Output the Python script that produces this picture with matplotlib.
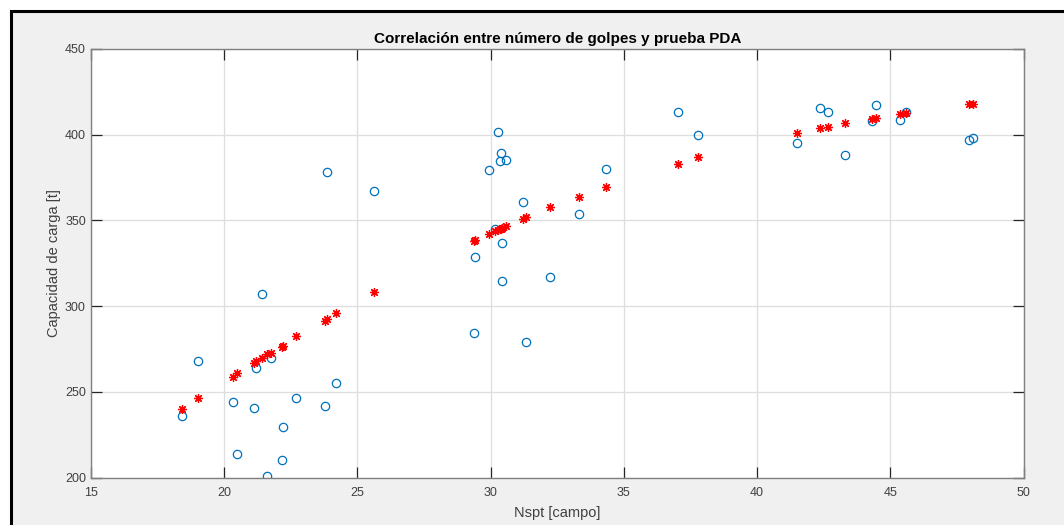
import matplotlib
matplotlib.use("Agg")
import matplotlib.pyplot as plt
from matplotlib.patches import Rectangle

# Nspt values (campo) and the two series
nspt = [
    18.42, 19.02, 20.34, 20.50, 21.13, 21.19, 21.43, 21.63, 21.75, 22.17,
    22.20, 22.72, 23.78, 23.86, 24.22, 25.63,
    29.37, 29.41, 29.95, 30.16, 30.29, 30.35, 30.39, 30.42, 30.42, 30.57,
    31.22, 31.33, 32.24, 33.33, 34.32,
    37.04, 37.79, 41.51, 42.37, 42.65, 43.30, 44.30, 44.45, 45.36, 45.58,
    47.93, 48.09,
]
capacidad_pda = [
    235.8, 268.1, 244.0, 214.0, 240.5, 264.0, 307.0, 201.0, 270.0, 210.1,
    229.4, 246.3, 241.7, 378.2, 255.3, 366.9,
    284.6, 328.8, 379.3, 345.1, 401.5, 384.6, 389.0, 336.9, 314.4, 385.2,
    360.9, 279.0, 316.9, 353.4, 379.9,
    413.2, 399.8, 395.3, 415.7, 413.4, 387.9, 408.1, 417.3, 408.3, 413.0,
    396.8, 398.2,
]
capacidad_ajuste = [
    239.9, 246.3, 258.6, 260.9, 267.1, 267.9, 269.8, 272.0, 272.6, 276.4,
    277.0, 282.3, 291.6, 292.4, 295.9, 308.2,
    338.0, 338.3, 342.2, 343.6, 344.5, 344.9, 345.1, 345.3, 345.3, 346.4,
    350.9, 351.7, 357.5, 363.6, 369.4,
    382.8, 386.9, 400.9, 403.8, 404.2, 406.5, 409.2, 409.4, 412.2, 412.4,
    417.9, 417.9,
]
x_ticks = [15, 20, 25, 30, 35, 40, 45, 50]
y_ticks = [200, 250, 300, 350, 400, 450]

plt.rcParams["font.family"] = ["Liberation Sans", "DejaVu Sans"]

W, H = 1064, 525
fig = plt.figure(figsize=(W / 100, H / 100), dpi=100, facecolor="white")

# grey window background with a black frame on the left and top
fig.patches.append(Rectangle((11 / W, -0.2), 1.5, (H - 11) / H + 0.2,
                             transform=fig.transFigure, facecolor="#f0f0f0",
                             edgecolor="black", linewidth=2.2, zorder=-10))

ax = fig.add_axes([90.7 / W, 47.3 / H, 933 / W, 429 / H])
ax.set_zorder(1)
ax.set_facecolor("white")

ax.plot(nspt, capacidad_pda, linestyle="none", marker="o", markersize=6,
        markerfacecolor="none", markeredgecolor="#0072BD", markeredgewidth=0.9)
ax.plot(nspt, capacidad_ajuste, linestyle="none", marker=(8, 2, 0),
        markersize=6.5, color="#ff0000", markeredgewidth=0.9)

ax.set_xlim(15, 50)
ax.set_ylim(200, 450)
ax.set_xticks(x_ticks)
ax.set_yticks(y_ticks)
ax.grid(True, color="#dedede", linewidth=0.9)
ax.set_axisbelow(True)
ax.tick_params(direction="in", length=8, width=0.9, color="#262626",
               labelsize=9, labelcolor="#404040", top=True, right=True)
ax.tick_params(axis="x", pad=6.5)
ax.tick_params(axis="y", pad=3.5)
for spine in ax.spines.values():
    spine.set_color("#808080")
    spine.set_linewidth(1.0)

ax.set_title("Correlación entre número de golpes y prueba PDA",
             fontsize=11, fontweight="bold", color="black", pad=4)
ax.set_xlabel("Nspt [campo]", fontsize=10.5, color="#404040", labelpad=5)
ax.set_ylabel("Capacidad de carga [t]", fontsize=10.5, color="#404040", labelpad=3)

fig.savefig("out.png", dpi=100, facecolor=fig.get_facecolor())
